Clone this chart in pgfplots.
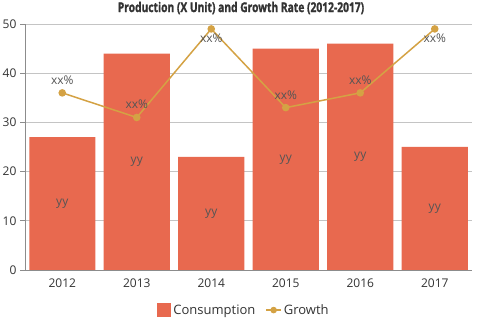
\documentclass[border=0pt]{standalone}
\usepackage{pgfplots}
\pgfplotsset{compat=1.18}
\usepackage{graphicx}
\usepackage{fontspec}
\setmainfont{Open Sans}
\newfontfamily\titlefont[UprightFeatures={FakeBold=1.5}, BoldFeatures={FakeBold=1.5}]{Open Sans}
\definecolor{barc}{HTML}{E8694F}
\definecolor{linec}{HTML}{D4A244}
\definecolor{gridc}{HTML}{C4C4C4}
\definecolor{axc}{HTML}{8C8C8C}
\definecolor{txt}{HTML}{333333}
\definecolor{lbl}{HTML}{555555}
\tikzset{lab/.style={font=\fontsize{12}{14}\selectfont, text=lbl}}
\begin{document}
\begin{tikzpicture}[x=1pt,y=1pt]
\begin{axis}[
 name=ax, at={(0,0)}, anchor=south west,
 scale only axis, width=447pt, height=246pt,
 xmin=-0.5, xmax=5.5, ymin=0, ymax=50,
 xtick={0,1,2,3,4,5}, xticklabels={2012,2013,2014,2015,2016,2017},
 ytick={0,10,20,30,40,50},
 axis x line*=bottom, axis y line*=left,
 ymajorgrids, grid style={gridc, line width=0.8pt},
 axis line style={axc, line width=0.8pt},
 major tick length=5pt,
 xtick style={draw=none},
 ytick style={axc, line width=0.8pt},
 tick align=outside,
 ticklabel style={font=\fontsize{12}{14}\selectfont, text=txt},
 /pgf/number format/assume math mode=true,
 clip=false,
 legend style={at={(axis description cs:0.49,-0.163)}, anchor=center, draw=none,
   font=\fontsize{13}{15}\selectfont, text=txt, legend columns=2,
   /tikz/every even column/.append style={column sep=8pt}},
]
\addplot[ybar, bar width=66pt, fill=barc, draw=none,
  legend image code/.code={\fill[barc] (0pt,-7pt) rectangle (14pt,7pt);}]
  coordinates {(0,27) (1,44) (2,23) (3,45) (4,46) (5,25)};
\addlegendentry{Consumption}
\addplot[linec, line width=1.5pt, mark=*, mark size=3pt, mark options={fill=linec, draw=linec},
  legend image code/.code={\draw[linec, line width=1.5pt] (0pt,0pt) -- (15pt,0pt); \fill[linec] (7.5pt,0pt) circle (2.5pt);}]
  coordinates {(0,36) (1,31) (2,49) (3,33) (4,36) (5,49)};
\addlegendentry{Growth}
\node[lab] at (axis cs:0,13.5) {yy};
\node[lab] at (axis cs:1,22) {yy};
\node[lab] at (axis cs:2,11.5) {yy};
\node[lab] at (axis cs:3,22.5) {yy};
\node[lab] at (axis cs:4,23) {yy};
\node[lab] at (axis cs:5,12.5) {yy};
\node[lab] at (axis cs:0,38.6) {xx\%};
\node[lab] at (axis cs:1,33.6) {xx\%};
\node[lab] at (axis cs:2,47.2) {xx\%};
\node[lab] at (axis cs:3,35.6) {xx\%};
\node[lab] at (axis cs:4,38.6) {xx\%};
\node[lab] at (axis cs:5,47.2) {xx\%};
\end{axis}
\node[font=\fontsize{13.5}{15}\titlefont\bfseries, text=txt] at (216,262) {\scalebox{0.76}[1]{Production (X Unit) and Growth Rate (2012-2017)}};
\pgfresetboundingbox
\useasboundingbox (-25,-50) rectangle (455,270);
\end{tikzpicture}
\end{document}
